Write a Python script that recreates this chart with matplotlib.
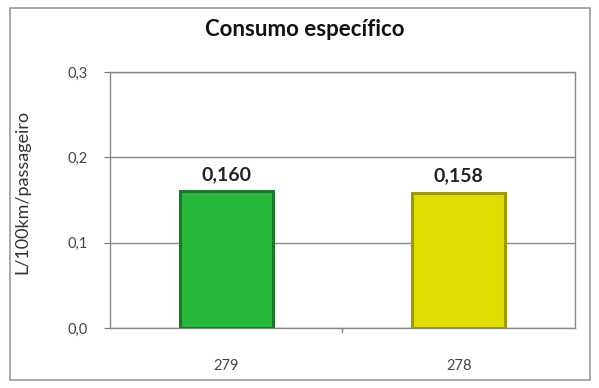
import matplotlib
matplotlib.use("Agg")
import matplotlib.pyplot as plt
from matplotlib.patches import Rectangle

plt.rcParams["font.family"] = ["Lato", "DejaVu Sans"]

categories = ["279", "278"]
values = [0.160, 0.158]
labels = ["0,160", "0,158"]
colors = ["#27b83c", "#e0de00"]
edges = ["#187a28", "#a09a00"]
yticks = [0.0, 0.1, 0.2, 0.3]
ytick_labels = ["0,0", "0,1", "0,2", "0,3"]

fig = plt.figure(figsize=(5.99, 3.88), dpi=100)
ax = fig.add_axes([0.1836, 0.1546, 0.776, 0.66])

x = range(len(categories))
ax.bar(x, values, width=0.40, color=colors, edgecolor=edges, linewidth=2.2, zorder=3)
for xi, v, lab in zip(x, values, labels):
    ax.text(xi, v + 0.01, lab, ha="center", va="bottom", fontsize=14,
            fontweight="bold", color="#222222")

ax.set_xlim(-0.5, 1.5)
ax.set_ylim(0, 0.3)
ax.set_yticks(yticks)
ax.set_yticklabels(ytick_labels, fontsize=10.5, color="#444444")
ax.set_xticks(list(x))
ax.set_xticklabels(categories, fontsize=10.5, color="#444444")
ax.tick_params(axis="x", length=0, pad=22)
ax.tick_params(axis="y", length=4, color="#777777", pad=12)
ax.grid(axis="y", color="#888888", linewidth=1, zorder=0)
for side in ax.spines.values():
    side.set_color("#888888")
    side.set_linewidth(1)
ax.axvline(0.5, ymin=-0.015, ymax=0, color="#888888", lw=1, clip_on=False)
ax.set_ylabel("L/100km/passageiro", fontsize=13, color="#333333")
ax.yaxis.set_label_coords(-0.172, 0.53)

fig.text(0.508, 0.923, "Consumo específico", ha="center", va="center",
         fontsize=16, fontweight="bold", color="#111111")
fig.patches.append(Rectangle((10 / 599, 8 / 388), 580 / 599, 372 / 388,
                             transform=fig.transFigure, fill=False,
                             edgecolor="#999999", linewidth=1.2))

fig.savefig("out.png", dpi=100)
